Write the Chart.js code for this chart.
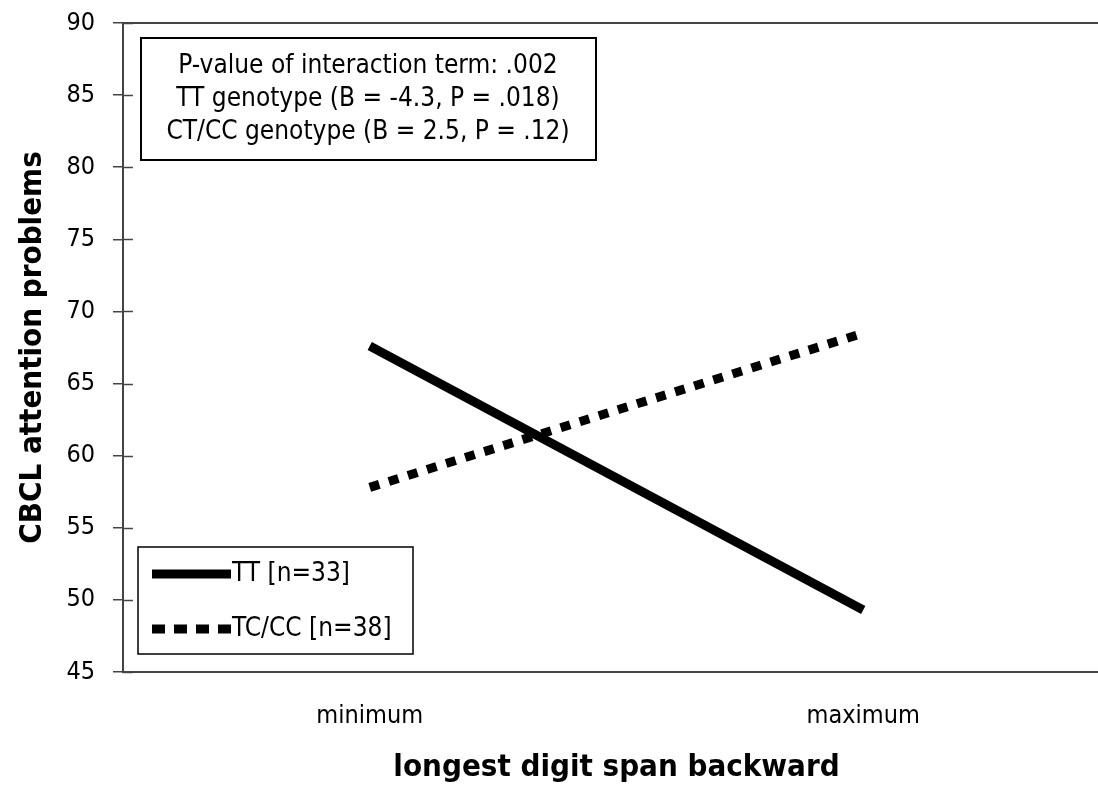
<!DOCTYPE html>
<html>
<head>
<meta charset="utf-8">
<script src="https://cdn.jsdelivr.net/npm/chart.js"></script>
<style>
  body { margin: 0; overflow: hidden; background: #fff; }
</style>
</head>
<body>
<canvas id="myChart" width="1110" height="788"></canvas>
<script>
// data
const categories = ['minimum', 'maximum'];
const ttValues = [67.6, 49.3];
const tcValues = [57.8, 68.5];
const seriesNames = ['TT [n=33]', 'TC/CC [n=38]'];
const yTicks = [45, 50, 55, 60, 65, 70, 75, 80, 85, 90];
const noteLines = [
  'P-value of interaction term: .002',
  'TT genotype (B = -4.3, P = .018)',
  'CT/CC genotype (B = 2.5, P = .12)'
];

const FONT = '"DejaVu Sans Condensed", "DejaVu Sans", sans-serif';
const AXIS = '#444';

// top border, ticks that cross the axis, note box and legend box
const extras = {
  id: 'extras',
  afterDatasetsDraw(chart) {
    const c = chart.ctx;
    const area = chart.chartArea;
    const y = chart.scales.y;
    c.save();
    c.strokeStyle = AXIS;
    c.lineWidth = 2;
    c.beginPath();
    c.moveTo(area.left, area.top);
    c.lineTo(area.right, area.top);
    c.stroke();
    c.lineWidth = 1.5;
    yTicks.forEach(t => {
      const py = Math.round(y.getPixelForValue(t)) + 0.5;
      c.beginPath();
      c.moveTo(area.left, py);
      c.lineTo(area.left + 10, py);
      c.stroke();
    });

    // note box
    c.fillStyle = '#fff';
    c.fillRect(141, 38, 455, 122);
    c.strokeStyle = '#000';
    c.lineWidth = 2;
    c.strokeRect(141, 38, 455, 122);
    c.fillStyle = '#000';
    c.font = '26px ' + FONT;
    c.textAlign = 'center';
    c.textBaseline = 'middle';
    noteLines.forEach((s, i) => c.fillText(s, 368, 66 + i * 33));

    // legend box
    c.fillStyle = '#fff';
    c.fillRect(138, 547, 275, 107);
    c.strokeStyle = '#000';
    c.lineWidth = 1.5;
    c.strokeRect(138, 547, 275, 107);
    c.textAlign = 'left';
    chart.data.datasets.forEach((ds, i) => {
      const ly = 574 + i * 55;
      c.strokeStyle = ds.borderColor;
      c.lineWidth = ds.borderWidth;
      c.lineCap = 'butt';
      c.setLineDash(ds.borderDash ? [13, 9] : []);
      c.beginPath();
      c.moveTo(152, ly);
      c.lineTo(231, ly);
      c.stroke();
      c.setLineDash([]);
      c.fillStyle = '#000';
      c.fillText(ds.label, 232, ly);
    });
    c.restore();
  }
};

new Chart(document.getElementById('myChart'), {
  type: 'line',
  data: {
    labels: categories,
    datasets: [{
      label: seriesNames[0],
      data: ttValues,
      borderColor: '#000',
      borderWidth: 9,
      pointRadius: 0,
      tension: 0
    }, {
      label: seriesNames[1],
      data: tcValues,
      borderColor: '#000',
      borderWidth: 9,
      borderDash: [10, 10],
      pointRadius: 0,
      tension: 0
    }]
  },
  options: {
    responsive: false,
    animation: false,
    layout: { padding: { top: 23, left: 0, right: 0, bottom: 0 } },
    scales: {
      x: {
        type: 'category',
        offset: true,
        grid: { display: false, drawTicks: false },
        border: { display: true, color: AXIS, width: 2 },
        ticks: { color: '#000', font: { family: FONT, size: 25 }, padding: 29 },
        title: {
          display: true,
          text: 'longest digit span backward',
          color: '#000',
          font: { family: FONT, size: 31, weight: 'bold' },
          padding: { top: 0, bottom: 1 }
        },
        afterFit: s => { s.height = 116; }
      },
      y: {
        min: 45,
        max: 90,
        afterBuildTicks: s => { s.ticks = yTicks.map(v => ({ value: v })); },
        grid: { drawOnChartArea: false, tickLength: 10, color: AXIS, lineWidth: 1.5 },
        border: { display: true, color: AXIS, width: 2 },
        // small lineHeight keeps the label overflow from pushing the plot down
        ticks: { color: '#000', font: { family: FONT, size: 25, lineHeight: 0.2 }, padding: 18 },
        title: {
          display: true,
          text: 'CBCL attention problems',
          color: '#000',
          font: { family: FONT, size: 31, weight: 'bold' },
          padding: { top: 14, bottom: 0 }
        },
        afterFit: s => { s.width = 123; }
      }
    },
    plugins: {
      legend: { display: false },
      tooltip: { enabled: false }
    }
  },
  plugins: [extras]
});
</script>
</body>
</html>
